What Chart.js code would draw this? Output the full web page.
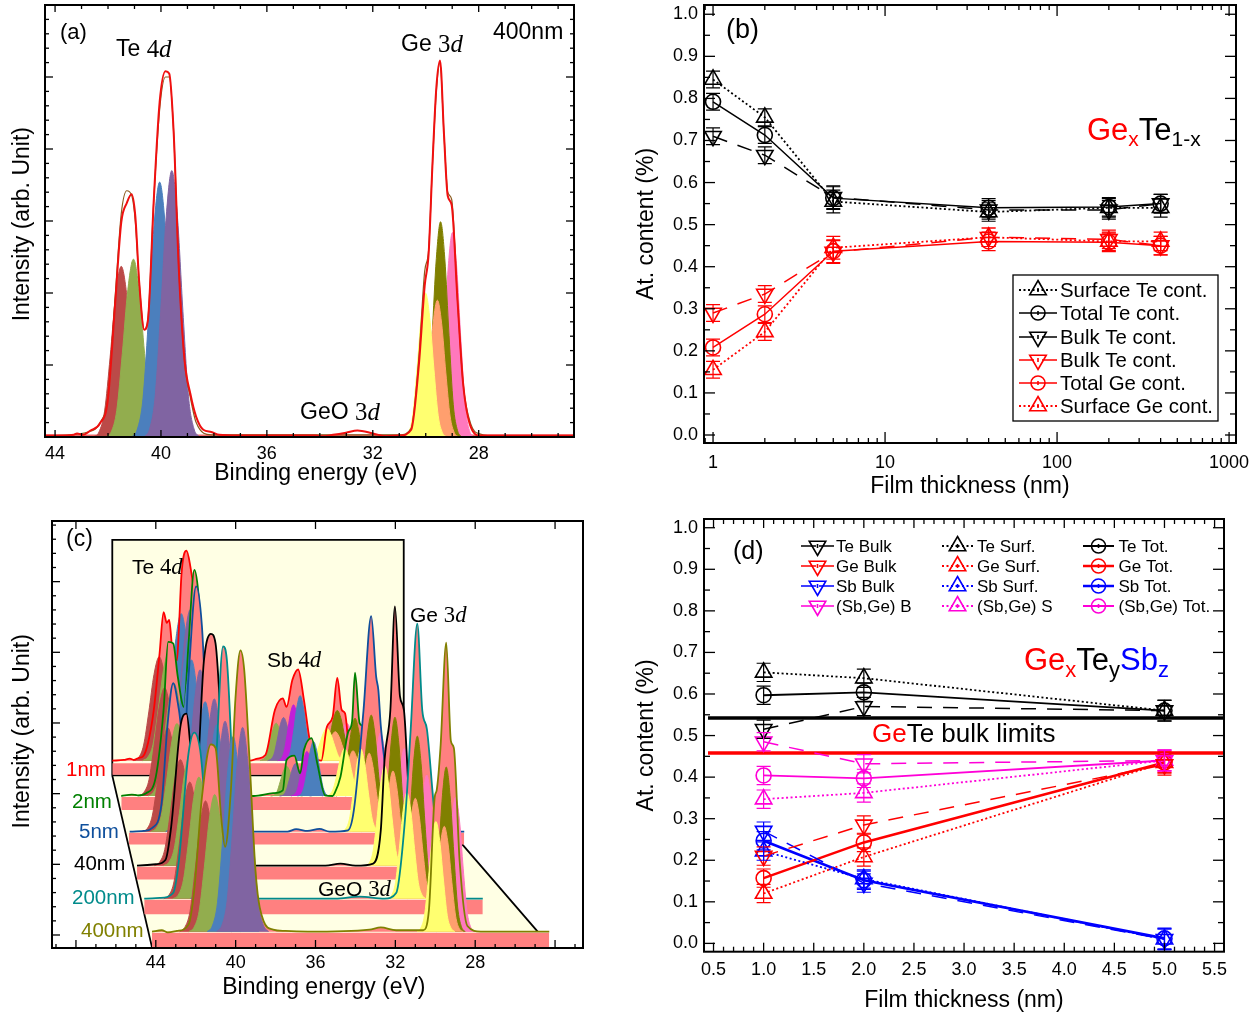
<!DOCTYPE html>
<html><head><meta charset="utf-8">
<style>html,body{margin:0;padding:0;background:#fff}canvas{position:absolute;display:block}</style>
<script src="https://cdn.jsdelivr.net/npm/chart.js@4"></script>
</head><body>
<canvas id="pa" style="left:0;top:0" width="620" height="500"></canvas>
<canvas id="pb" style="left:620px;top:0" width="640" height="505"></canvas>
<canvas id="pc" style="left:0;top:505px" width="620" height="509"></canvas>
<canvas id="pd" style="left:620px;top:505px" width="640" height="509"></canvas>
<script>
/* ---------- panel (b) values ---------- */
const bThickness=[1,2,5,40,200,400];
const bSurfTe=[.845,.755,.555,.53,.54,.54];
const bTotTe=[.792,.713,.563,.54,.542,.55];
const bBulkTe=[.71,.665,.565,.535,.535,.55];
const bBulkGe=[.29,.335,.435,.47,.465,.45];
const bTotGe=[.208,.287,.437,.46,.458,.45];
const bSurfGe=[.155,.245,.445,.47,.46,.46];
const bErr=[.02,.02,.027,.022,.022,.022];
/* ---------- panel (d) values ---------- */
const dThickness=[1,2,5];
const dTeBulk=[.515,.57,.56], dGeBulk=[.21,.285,.43], dSbBulk=[.27,.145,.01], dSbGeBulk=[.485,.432,.44];
const dTeSurf=[.652,.638,.56], dGeSurf=[.12,.208,.435], dSbSurf=[.222,.155,.01], dSbGeSurf=[.347,.362,.44];
const dTeTot=[.597,.604,.56], dGeTot=[.157,.243,.435], dSbTot=[.247,.152,.012], dSbGeTot=[.404,.397,.44];
const dErr=[.022,.022,.025];
const dLimitTe=.542, dLimitGe=.458;
/* ---------- panel (a) values: energy (eV), intensity ---------- */
const aEnvelope=[[44.36,.02],[43.6,.02],[43.3,.03],[43.17,.05],[42.95,.03],[42.66,.09],[42.3,.19],[42.01,.51],[41.72,1.91],[41.5,2.98],[41.29,3.25],[41.11,3.37],[40.97,3.07],[40.82,2.14],[40.63,1.49],[40.49,1.63],[40.27,3.3],[40.05,4.65],[39.83,5.08],[39.69,5.05],[39.52,4.23],[39.33,2.37],[39.11,1.07],[38.89,.6],[38.67,.28],[38.4,.1],[38.1,.07],[37.8,.03],[37.08,.02],[34.17,.02],[33.9,.01],[33.5,.03],[33.01,.06],[32.58,.09],[32.0,.05],[31.5,.01],[30.98,.02],[30.55,.1],[30.26,1.0],[30.04,2.1],[29.89,2.55],[29.75,3.75],[29.6,4.85],[29.46,5.23],[29.31,4.2],[29.17,3.35],[29.02,3.22],[28.8,1.9],[28.59,.75],[28.3,.14],[27.93,.02],[24.4,.02]];
const aFit=[[44.36,.01],[42.66,.08],[42.3,.2],[42.01,.55],[41.72,2.0],[41.5,3.1],[41.29,3.42],[41.11,3.36],[40.97,3.0],[40.82,2.14],[40.63,1.49],[40.49,1.65],[40.27,3.3],[40.05,4.55],[39.83,5.0],[39.69,5.0],[39.52,4.23],[39.33,2.37],[39.11,1.05],[38.89,.55],[38.67,.2],[38.1,.03],[30.98,.03],[30.55,.12],[30.26,1.1],[30.04,2.3],[29.89,2.6],[29.75,3.75],[29.6,4.8],[29.46,5.2],[29.31,4.2],[29.17,3.4],[29.02,3.3],[28.8,1.9],[28.59,.75],[28.3,.18],[27.93,.04],[27.3,.01],[24.4,.01]];
const aBaseline=[[44.38,.015],[24.4,.015]];
const aTePeakStart=[42.55,42.09,41.1,40.64];
const aTePeaks=[[0,.07,.36,1.11,1.97,2.37,1.97,1.11,.36,.07,0],[0,.07,.37,1.16,2.05,2.47,2.05,1.16,.37,.07,0],[0,.11,.53,1.66,2.94,3.54,2.94,1.66,.53,.11,0],[0,.11,.56,1.74,3.07,3.7,3.07,1.74,.56,.11,0]];
const aGePeakStart=[29.79,30.24,30.81,30.36];
const aGePeaks=[[0,.09,.43,1.33,2.36,2.84,2.36,1.33,.43,.09,0],[0,.09,.45,1.41,2.48,2.99,2.48,1.41,.45,.09,0],[0,.06,.3,.94,1.66,2,1.66,.94,.3,.06,0],[0,.06,.29,.89,1.58,1.9,1.58,.89,.29,.06,0]];
/* ---------- panel (c) values: one set per film ---------- */
const cFilms=['1nm','2nm','5nm','40nm','200nm','400nm'];
const cOffsets=[2.467,1.967,1.462,.981,.514,.047];
const cEnv1=[[46.18,0],[45.6,.01],[45.3,.03],[45.1,.01],[44.85,.04],[44.64,.06],[44.39,.25],[44.1,.72],[43.81,1.52],[43.61,2.1],[43.45,1.95],[43.33,1.99],[43.17,1.57],[42.94,1.42],[42.84,1.89],[42.71,2.65],[42.46,2.97],[42.27,2.75],[41.98,2.13],[41.59,.72],[41.21,.05],[40.6,0],[39.28,0],[38.9,.03],[38.51,.08],[38.03,.72],[37.64,.88],[37.45,.76],[37.16,1.14],[36.87,1.29],[36.58,.86],[36.29,.29],[36,.03],[35.71,0],[35.43,.48],[35.14,.62],[34.91,1.17],[34.69,.72],[34.52,.67],[34.27,.06],[33.98,0],[32.5,0]];
const cEnv2=[[45.73,0],[45.2,.02],[44.9,.01],[44.48,.04],[44,.27],[43.61,1.22],[43.38,2.18],[43.13,2.16],[42.9,1.69],[42.59,1.26],[42.36,2.16],[42.07,3.2],[41.88,2.91],[41.59,1.69],[41.11,.04],[40.6,0],[39.09,0],[38.12,.04],[37.64,.08],[37.45,.51],[37.06,.57],[36.77,.32],[36.58,.65],[36.2,.82],[35.91,.46],[35.52,.01],[35.14,0],[35.04,.04],[34.75,.27],[34.37,.9],[34.17,1.05],[34.02,1.745],[33.79,1.03],[33.6,.98],[33.21,.27],[32.82,.01],[31,0]];
const cEnv3=[[45.31,0],[44.6,.01],[44.19,.05],[43.71,.4],[43.42,1.49],[43.13,2.1],[42.84,1.72],[42.59,1.2],[42.36,2.2],[41.98,3.47],[41.69,2.91],[41.4,1.25],[40.92,.02],[40,0],[37.4,0],[36.97,.035],[36.4,.01],[35.8,.04],[35.3,0],[34.37,.02],[34.08,.3],[33.6,1.7],[33.21,3.05],[32.96,2.19],[32.85,2.0],[32.73,1.5],[32.44,.78],[32.05,.07],[31.57,0],[28.55,0]];
const cEnv4=[[44.94,0],[44,.02],[43.52,.08],[43.23,.55],[42.75,2],[42.46,2.15],[42.23,1.6],[41.98,1.2],[41.59,2.9],[41.24,3.28],[41.01,3.15],[40.72,1.9],[40.44,.1],[40.2,0],[35.5,0],[34.75,.03],[34,0],[33.11,.03],[32.73,.5],[32.54,1.5],[32.25,2.2],[32.02,3.67],[31.77,2.4],[31.57,2.2],[31.28,.8],[30.8,.03],[30.4,0],[29.5,0]];
const cEnv5=[[44.58,0],[43.8,.01],[43.13,.08],[42.84,.55],[42.36,2.06],[42.07,2.35],[41.78,2.11],[41.3,.8],[41.01,1.8],[40.63,3.57],[40.44,3.38],[40.05,1.25],[39.47,.03],[38.9,0],[35,0],[33.8,.03],[32.54,0],[31.96,.08],[31.48,1.25],[31.23,2.4],[30.9,3.89],[30.65,2.66],[30.42,2.4],[30.13,1.49],[29.64,.03],[29.2,0],[27.62,0]];
const cEnv6=[[44.19,0],[43.7,.02],[43.4,-.01],[42.94,.01],[42.36,.1],[42.07,.6],[41.69,1.9],[41.24,2.65],[41.01,2.6],[40.72,1.6],[40.53,1.2],[40.24,2],[40.01,3.3],[39.76,3.98],[39.57,3.7],[39.28,2.3],[38.99,.8],[38.6,.15],[38.12,.03],[37.5,.01],[36.39,0],[33.3,.03],[32.73,.06],[31.96,.02],[30.61,.02],[30.32,.3],[30.03,1.9],[29.93,2],[29.74,2.6],[29.45,4.09],[29.22,2.7],[29.07,2.6],[28.78,1],[28.39,.08],[27.72,0],[24.29,0]];
const cBandEnds=[[46.18,32.5],[45.73,31],[45.35,28.55],[44.94,31.67],[44.58,27.62],[44.19,24.29]];
const cBandDepth=[.2,.2,.18,.195,.22,.23];
const cTeStart=[[45.13,44.66,44.03,43.57],[44.86,44.39,43.64,43.18],[44.7,44.24,43.51,43.08],[44.07,43.6,42.83,42.37],[43.6,43.14,42.26,41.83],[42.81,42.35,41.43,40.95]];
const cTe1=[[0,.04,.22,.69,1.22,1.47,1.22,.69,.22,.04,0],[0,.05,.23,.72,1.27,1.53,1.27,.72,.23,.05,0],[0,.06,.31,.98,1.73,2.08,1.73,.98,.31,.06,0],[0,.06,.32,1.01,1.78,2.14,1.78,1.01,.32,.06,0]];
const cTe2=[[0,.05,.23,.72,1.27,1.53,1.27,.72,.23,.05,0],[0,.05,.24,.75,1.32,1.59,1.32,.75,.24,.05,0],[0,.07,.34,1.05,1.86,2.24,1.86,1.05,.34,.07,0],[0,.07,.35,1.08,1.91,2.3,1.91,1.08,.35,.07,0]];
const cTe3=[[0,.04,.22,.69,1.22,1.47,1.22,.69,.22,.04,0],[0,.05,.23,.72,1.27,1.53,1.27,.72,.23,.05,0],[0,.07,.36,1.14,2.02,2.43,2.02,1.14,.36,.07,0],[0,.07,.34,1.08,1.9,2.29,1.9,1.08,.34,.07,0]];
const cTe4=[[0,.05,.23,.71,1.25,1.5,1.25,.71,.23,.05,0],[0,.05,.24,.74,1.3,1.57,1.3,.74,.24,.05,0],[0,.07,.35,1.09,1.93,2.32,1.93,1.09,.35,.07,0],[0,.07,.35,1.11,1.96,2.36,1.96,1.11,.35,.07,0]];
const cTe5=[[0,.05,.25,.78,1.37,1.65,1.37,.78,.25,.05,0],[0,.05,.26,.81,1.43,1.72,1.43,.81,.26,.05,0],[0,.07,.37,1.16,2.04,2.46,2.04,1.16,.37,.07,0],[0,.08,.38,1.18,2.08,2.51,2.08,1.18,.38,.08,0]];
const cTe6=[[0,.06,.28,.87,1.54,1.85,1.54,.87,.28,.06,0],[0,.06,.29,.91,1.61,1.94,1.61,.91,.29,.06,0],[0,.08,.41,1.3,2.29,2.76,2.29,1.3,.41,.08,0],[0,.09,.43,1.36,2.4,2.89,2.4,1.36,.43,.09,0]];
const cSbStart=[[38.77,38.4,37.9,37.57],[38.25,37.8,37.23,36.9]];
const cSb1=[[0,.02,.08,.25,.44,.53,.44,.25,.08,.02,0],[0,.02,.09,.29,.51,.61,.51,.29,.09,.02,0],[0,.02,.12,.37,.66,.79,.66,.37,.12,.02,0],[0,.03,.14,.43,.76,.92,.76,.43,.14,.03,0]];
const cSb2=[[0,.01,.06,.2,.35,.42,.35,.2,.06,.01,0],[0,.01,.07,.22,.38,.46,.38,.22,.07,.01,0],[0,.02,.09,.3,.52,.63,.52,.3,.09,.02,0],[0,.02,.12,.36,.64,.77,.64,.36,.12,.02,0]];
/* Ge rows: pink, olive, yellow, orange */
const cGeStart=[[35.39,35.86,36.38,35.96],[34.5,34.97,35.49,35.07],[33.69,34.16,34.68,34.26],[32.5,32.97,33.49,33.07],[31.38,31.85,32.37,31.95],[29.93,30.4,30.92,30.5]];
const cGe1=[[0,.02,.08,.25,.44,.53,.44,.25,.08,.02,0],[0,.02,.11,.33,.59,.71,.59,.33,.11,.02,0],[0,.01,.07,.22,.38,.46,.38,.22,.07,.01,0],[0,.01,.06,.19,.34,.41,.34,.19,.06,.01,0]];
const cGe2=[[0,.03,.14,.45,.8,.96,.8,.45,.14,.03,0],[0,.03,.17,.52,.91,1.1,.91,.52,.17,.03,0],[0,.02,.1,.31,.56,.67,.56,.31,.1,.02,0],[0,.02,.1,.3,.53,.64,.53,.3,.1,.02,0]];
const cGe3=[[0,.04,.21,.66,1.16,1.4,1.16,.66,.21,.04,0],[0,.05,.25,.78,1.37,1.65,1.37,.78,.25,.05,0],[0,.04,.18,.55,.97,1.17,.97,.55,.18,.04,0],[0,.03,.17,.52,.92,1.11,.92,.52,.17,.03,0]];
const cGe4=[[0,.05,.25,.78,1.38,1.66,1.38,.78,.25,.05,0],[0,.06,.32,.99,1.74,2.1,1.74,.99,.32,.06,0],[0,.04,.21,.66,1.17,1.41,1.17,.66,.21,.04,0],[0,.04,.2,.63,1.11,1.34,1.11,.63,.2,.04,0]];
const cGe5=[[0,.05,.26,.82,1.45,1.75,1.45,.82,.26,.05,0],[0,.07,.35,1.08,1.91,2.3,1.91,1.08,.35,.07,0],[0,.05,.23,.71,1.25,1.5,1.25,.71,.23,.05,0],[0,.04,.21,.67,1.18,1.42,1.18,.67,.21,.04,0]];
const cGe6=[[0,.06,.29,.89,1.58,1.9,1.58,.89,.29,.06,0],[0,.07,.35,1.1,1.93,2.33,1.93,1.1,.35,.07,0],[0,.05,.23,.73,1.29,1.56,1.29,.73,.23,.05,0],[0,.04,.22,.7,1.24,1.49,1.24,.7,.22,.04,0]];

/* ---------- styles ---------- */
const SANS='"Liberation Sans", Arial, sans-serif', SERIF='"Liberation Serif", serif';
const teColors=['#bb4a48','#92ad4e','#4b7fbd','#8064a2'];
const sbColors=['#92ad4e','#8064a2','#c020d8','#4b7fbd'];
const geColors=['#ff78bd','#808000','#ffff70','#ff9f6e'];
const geDrawOrder=[0,1,3,2];
const filmColors=['#ff0000','#008000','#0f4f9c','#000000','#008b8b','#808000'];
const SALMON='#ff8080', WALL='#ffffe4';
const DOT=[2,2.5], DASH=[15,11];
const A_TE_STEP=.21, C_TE_STEP=.26, A_GE_STEP=.16, C_GE_STEP=.19, SB_STEP=.16;

const serifD=(n)=>[[n+'',{font:SERIF,scale:1.08}],['d',{font:SERIF,italic:true,scale:1.08}]];
function pts(pairs,off){return pairs.map(p=>({x:p[0],y:p[1]+(off||0)}));}
function peakSet(start,step,vals,colors,off,order){
  const all=vals.map((v,i)=>({data:v.map((h,k)=>({x:start[i]-k*step,y:h+off})),borderColor:colors[i],borderWidth:1,
    backgroundColor:colors[i],fill:{value:off},cubicInterpolationMode:'monotone'}));
  return order?order.map(i=>all[i]):all;
}
function layered(list){const n=list.length;return list.map((d,i)=>Object.assign({showLine:true,pointRadius:0,order:n-i},d));}

/* ---------- generic plugin: frame, inward ticks, error bars, legend, text ---------- */
function tickValues(sc,t){
  const out=[];
  if(t.log){
    for(let d=-1;d<=3;d++)for(let m=1;m<=9;m++){const v=m*Math.pow(10,d);if(v>=sc.min&&v<=sc.max)out.push([v,m===1]);}
    return out;
  }
  const a=t.anchor||0;
  for(let k=Math.ceil((sc.min-a)/t.step-1e-9);a+k*t.step<=sc.max+1e-9;k++)out.push([a+k*t.step,k%t.every===0]);
  return out;
}
function marker(ctx,kind,x,y,r){
  ctx.beginPath();
  if(kind==='circle'){ctx.arc(x,y,r,0,Math.PI*2);}
  else{const s=kind==='up'?1:-1,w=r*0.87;
    ctx.moveTo(x,y-s*r);ctx.lineTo(x+w,y+s*r/2);ctx.lineTo(x-w,y+s*r/2);ctx.closePath();}
  ctx.stroke();
}
function richText(ctx,a,ox,oy){
  let x=a.x-ox;const y=a.y-oy+1;
  ctx.textBaseline='middle';ctx.textAlign='left';
  a.runs.forEach(r=>{
    const o=r[1]||{};const size=(o.sub?(a.sub||a.size*.7):a.size)*(o.scale||1);
    ctx.font=(o.italic?'italic ':'')+size+'px '+(o.font||SANS);
    ctx.fillStyle=o.color||a.color||'#000';
    ctx.fillText(r[0],x,y+(o.sub?(a.subDy||a.size*.28):0));
    x+=ctx.measureText(r[0]).width;
  });
}
function makePlugin(box,cfg){
  return {id:'panelDecor',
    beforeDatasetsDraw(chart){
      const c=chart.ctx,X=chart.scales.x,Y=chart.scales.y;
      c.save();
      if(cfg.backdrop){
        c.beginPath();
        cfg.backdrop.forEach((p,i)=>{const px=X.getPixelForValue(p[0]),py=Y.getPixelForValue(p[1]);i?c.lineTo(px,py):c.moveTo(px,py);});
        c.closePath();c.fillStyle=WALL;c.fill();
      }
      if(cfg.wallLines){c.strokeStyle='#000';c.lineWidth=1.8;
        cfg.wallLines.forEach(l=>{c.beginPath();l.forEach((p,i)=>{const px=X.getPixelForValue(p[0]),py=Y.getPixelForValue(p[1]);i?c.lineTo(px,py):c.moveTo(px,py);});c.stroke();});}
      c.restore();
    },
    afterDatasetsDraw(chart){
      const c=chart.ctx,X=chart.scales.x,Y=chart.scales.y;c.save();
      chart.data.datasets.forEach(d=>{
        if(!d.errs)return;
        c.strokeStyle=d.borderColor;c.lineWidth=1.2;c.setLineDash([]);
        d.data.forEach((p,i)=>{
          const px=X.getPixelForValue(p.x),hi=Y.getPixelForValue(p.y+d.errs[i]),lo=Y.getPixelForValue(p.y-d.errs[i]);
          c.beginPath();c.moveTo(px,hi);c.lineTo(px,lo);c.moveTo(px-7,hi);c.lineTo(px+7,hi);c.moveTo(px-7,lo);c.lineTo(px+7,lo);c.stroke();
        });
      });
      c.restore();
    },
    afterDraw(chart){
      const c=chart.ctx,a=chart.chartArea,X=chart.scales.x,Y=chart.scales.y;c.save();
      c.strokeStyle='#000';c.lineWidth=1.3;c.setLineDash([]);
      const tx=cfg.ticks.x,ty=cfg.ticks.y;
      tickValues(X,tx).forEach(([v,maj])=>{const p=X.getPixelForValue(v);
        (tx.sides).forEach(s=>{const L=maj?tx.major:(s==='top'&&tx.noTopMinor?0:tx.minor);if(!L)return;c.beginPath();
          if(s==='bottom'){c.moveTo(p,a.bottom);c.lineTo(p,a.bottom-L);}else{c.moveTo(p,a.top);c.lineTo(p,a.top+L);}c.stroke();});});
      tickValues(Y,ty).forEach(([v,maj])=>{const p=Y.getPixelForValue(v);
        (ty.sides).forEach(s=>{const L=maj?ty.major:ty.minor;c.beginPath();
          if(s==='left'){c.moveTo(a.left,p);c.lineTo(a.left+L,p);}else{c.moveTo(a.right,p);c.lineTo(a.right-L,p);}c.stroke();});});
      c.lineWidth=2;c.strokeRect(a.left,a.top,a.right-a.left,a.bottom-a.top);
      if(cfg.legend){const g=cfg.legend;
        if(g.box){c.lineWidth=1.3;c.fillStyle='#fff';const b=g.box;c.fillRect(b[0]-box.l,b[1]-box.t,b[2]-b[0],b[3]-b[1]);c.strokeRect(b[0]-box.l,b[1]-box.t,b[2]-b[0],b[3]-b[1]);}
        g.items.forEach(it=>{const d=chart.data.datasets[it.ds];const y=it.y-box.t;
          c.strokeStyle=d.borderColor;c.lineWidth=d.borderWidth;c.setLineDash(d.borderDash||[]);
          c.beginPath();c.moveTo(it.x0-box.l,y);c.lineTo(it.m-box.l,y);c.moveTo(it.x1-box.l,y);c.lineTo(it.m-box.l,y);c.stroke();
          c.setLineDash([]);c.lineWidth=1.6;
          const kind=d.pointStyle==='circle'?'circle':(d.pointRotation?'down':'up');
          marker(c,kind,it.m-box.l,y,kind==='circle'?7:9.5);
          c.beginPath();c.moveTo(it.m-box.l,y-2);c.lineTo(it.m-box.l,y+2);c.stroke();
          c.font=g.size+'px '+SANS;c.fillStyle='#000';c.textAlign='left';c.textBaseline='middle';
          c.fillText(d.label,it.t-box.l,y+1);
        });
      }
      (cfg.texts||[]).forEach(t=>richText(c,t,box.l,box.t));
      c.restore();
    }};
}
function zeroPad(s){s.paddingTop=0;s.paddingBottom=0;s.paddingLeft=0;s.paddingRight=0;}
function build(id,box,frame,datasets,cfg){
  const ticksFont={family:SANS,size:cfg.tickSize||18};
  new Chart(document.getElementById(id),{
    type:'scatter',
    data:{datasets},
    plugins:[makePlugin(box,cfg)],
    options:{responsive:false,animation:false,events:[],devicePixelRatio:1,
      layout:{autoPadding:false,padding:{left:0,bottom:0,top:frame.t-box.t,right:box.l+box.w-frame.r}},
      plugins:{legend:{display:false},tooltip:{enabled:false}},
      scales:{
        x:Object.assign({position:'bottom',border:{display:false},grid:{display:false,drawTicks:false},
          afterFit(s){s.height=box.t+box.h-frame.b;zeroPad(s);},
          title:{display:true,text:cfg.xTitle,color:'#000',font:{family:SANS,size:23},padding:{top:0,bottom:cfg.xTitlePad}},
          ticks:Object.assign({color:'#000',font:ticksFont,padding:cfg.xTickPad,autoSkip:false,maxRotation:0,includeBounds:false},cfg.xTicks)},cfg.x),
        y:Object.assign({position:'left',border:{display:false},grid:{display:false,drawTicks:false},
          afterFit(s){s.width=frame.l-box.l;zeroPad(s);},
          title:{display:true,text:cfg.yTitle,color:'#000',font:{family:SANS,size:23},padding:{top:cfg.yTitlePad,bottom:0}},
          ticks:Object.assign({color:'#000',font:ticksFont,padding:6,autoSkip:false,includeBounds:false},cfg.yTicks)},cfg.y)
      }}});
}
const bindingLabel=v=>(v>=28&&v<=44)?String(v):null;

/* ---------- panel (a) ---------- */
{
  const list=[];
  list.push({data:pts(aBaseline),borderColor:'#f06a6a',borderWidth:3,fill:false});
  list.push(...peakSet(aTePeakStart,A_TE_STEP,aTePeaks,teColors,0));
  list.push(...peakSet(aGePeakStart,A_GE_STEP,aGePeaks,geColors,0,geDrawOrder));
  list.push({data:pts(aFit),borderColor:'#8a5a1e',borderWidth:1.2,cubicInterpolationMode:'monotone',fill:false});
  list.push({data:pts(aEnvelope),borderColor:'#f01010',borderWidth:2,cubicInterpolationMode:'monotone',fill:false});
  build('pa',{l:0,t:0,w:620,h:500},{l:45,r:574,t:5,b:437},layered(list),{
    xTitle:'  Binding energy (eV)',yTitle:'Intensity (arb. Unit) ',xTitlePad:12.2,yTitlePad:9.2,xTickPad:6,
    x:{type:'linear',reverse:true,min:24.4,max:44.38},
    y:{type:'linear',min:0,max:6},
    xTicks:{stepSize:4,callback:bindingLabel},yTicks:{display:false,stepSize:1},
    ticks:{x:{step:1,every:4,anchor:28,major:7,minor:4,sides:['bottom','top']},y:{step:.2,every:5,major:8,minor:4,sides:['left','right']}},
    texts:[
      {x:60,y:32,size:22,runs:[['(a)']]},
      {x:116,y:49,size:23,runs:[['Te '],...serifD(4)]},
      {x:401,y:44,size:23,runs:[['Ge '],...serifD(3)]},
      {x:493,y:32,size:23,runs:[['400nm']]},
      {x:300,y:412,size:23,runs:[['GeO '],...serifD(3)]}
    ]});
}

/* ---------- panel (b) ---------- */
{
  const S=(label,vals,color,style,rot,dash,w)=>({label,data:vals.map((v,i)=>({x:bThickness[i],y:v})),errs:bErr,showLine:true,
    borderColor:color,borderWidth:w||(dash===DOT?1.8:1.5),borderDash:dash||[],pointStyle:style,pointRotation:rot,pointRadius:style==='circle'?7.5:9.5,
    pointBorderColor:color,pointBackgroundColor:'rgba(0,0,0,0)',pointBorderWidth:1.6,fill:false,tension:0});
  const ds=[
    S('Surface Te cont.',bSurfTe,'#000','triangle',0,DOT),
    S('Total Te cont.',bTotTe,'#000','circle',0),
    S('Bulk Te cont.',bBulkTe,'#000','triangle',180,DASH),
    S('Bulk Te cont.',bBulkGe,'#f00','triangle',180,DASH),
    S('Total Ge cont.',bTotGe,'#f00','circle',0),
    S('Surface Ge cont.',bSurfGe,'#f00','triangle',0,DOT)
  ];
  const rows=[290,313,337,360,383,406];
  build('pb',{l:620,t:0,w:640,h:505},{l:704,r:1236,t:5,b:443},ds,{
    xTitle:'Film thickness (nm)',yTitle:'At. content (%)',xTitlePad:4.2,yTitlePad:13.2,xTickPad:9,
    x:{type:'logarithmic',min:.886,max:1097},
    y:{type:'linear',min:-.019,max:1.022},
    xTicks:{callback:v=>{const l=Math.log10(v);return Math.abs(l-Math.round(l))<1e-6?String(Math.round(v)):null;}},
    yTicks:{stepSize:.1,callback:v=>v.toFixed(1)},
    ticks:{x:{log:true,major:11,minor:5,sides:['bottom','top']},y:{step:.05,every:2,major:11,minor:6,sides:['left','right']}},
    legend:{box:[1013,275,1218,421],size:20.4,items:rows.map((y,i)=>({ds:i,y,x0:1019,x1:1057,m:1038,t:1060}))},
    texts:[
      {x:726,y:30,size:27,runs:[['(b)']]},
      {x:1087,y:130,size:31,sub:21,subDy:9,runs:[['Ge',{color:'#f00'}],['x',{color:'#f00',sub:true}],['Te'],['1-x',{sub:true}]]}
    ]});
}

/* ---------- panel (c) ---------- */
{
  const te=[cTe1,cTe2,cTe3,cTe4,cTe5,cTe6], ge=[cGe1,cGe2,cGe3,cGe4,cGe5,cGe6], sb=[cSb1,cSb2];
  const envs=[cEnv1,cEnv2,cEnv3,cEnv4,cEnv5,cEnv6];
  const list=[];
  cFilms.forEach((name,i)=>{
    const off=cOffsets[i];
    const top=off-(i===0?.038:.015);
    list.push({label:name+' band',data:[{x:cBandEnds[i][0],y:top},{x:cBandEnds[i][1],y:top}],borderWidth:0,borderColor:SALMON,backgroundColor:SALMON,fill:{value:off-cBandDepth[i]}});
    list.push({label:name+' envelope',data:pts(envs[i],off),borderWidth:0,borderColor:SALMON,backgroundColor:SALMON,fill:{value:off},cubicInterpolationMode:'monotone'});
    list.push(...peakSet(cTeStart[i],C_TE_STEP,te[i],teColors,off));
    if(sb[i])list.push(...peakSet(cSbStart[i],SB_STEP,sb[i],sbColors,off));
    list.push(...peakSet(cGeStart[i],C_GE_STEP,ge[i],geColors,off,geDrawOrder));
    list.push({label:name,data:pts(envs[i],off),borderWidth:1.8,borderColor:filmColors[i],fill:false,cubicInterpolationMode:'monotone'});
  });
  const labels=[[66,769],[72,801],[79,831],[74,863],[72,897],[81,930]];
  build('pc',{l:0,t:505,w:620,h:509},{l:52,r:583,t:521,b:948},layered(list),{
    xTitle:'  Binding energy (eV)',yTitle:' Intensity (arb. Unit)',xTitlePad:12.2,yTitlePad:9.2,xTickPad:4,
    x:{type:'linear',reverse:true,min:22.6,max:49.2},
    y:{type:'linear',min:-.184,max:5.858},
    xTicks:{stepSize:4,callback:bindingLabel},yTicks:{display:false,stepSize:1},
    ticks:{x:{step:1,every:4,anchor:28,major:8,minor:4,noTopMinor:true,sides:['bottom','top']},y:{step:.2,every:5,major:8,minor:4,sides:['left']}},
    backdrop:[[46.18,5.59],[31.58,5.59],[31.58,2.24],[24.87,.047],[44.19,-.175],[46.18,2.255]],
    wallLines:[[[46.18,2.255],[46.18,5.59],[31.58,5.59],[31.58,2.24],[24.87,.047]],[[46.18,2.255],[44.19,-.175]],[[46.18,2.26],[33.9,2.26]]],
    texts:[
      {x:66,y:539,size:23,runs:[['(c)']]},
      {x:132,y:567,size:21,runs:[['Te '],...serifD(4)]},
      {x:267,y:660,size:21,runs:[['Sb '],...serifD(4)]},
      {x:410,y:615,size:21,runs:[['Ge '],...serifD(3)]},
      {x:318,y:889,size:21,runs:[['GeO '],...serifD(3)]},
      ...cFilms.map((n,i)=>({x:labels[i][0],y:labels[i][1],size:20.5,color:filmColors[i],runs:[[n]]}))
    ]});
}

/* ---------- panel (d) ---------- */
{
  const S=(label,vals,color,style,rot,dash,w)=>({label,data:vals.map((v,i)=>({x:dThickness[i],y:v})),errs:dErr,showLine:true,
    borderColor:color,borderWidth:w||(dash===DOT?1.8:1.5),borderDash:dash||[],pointStyle:style,pointRotation:rot,pointRadius:style==='circle'?7.5:9.5,
    pointBorderColor:color,pointBackgroundColor:'rgba(0,0,0,0)',pointBorderWidth:1.6,fill:false,tension:0});
  const B='#0000ff',M='#ff00d8',K='#000',R='#f00';
  const ds=[
    S('Te Bulk',dTeBulk,K,'triangle',180,DASH),S('Ge Bulk',dGeBulk,R,'triangle',180,DASH),S('Sb Bulk',dSbBulk,B,'triangle',180,DASH),S('(Sb,Ge) B',dSbGeBulk,M,'triangle',180,DASH),
    S('Te Surf.',dTeSurf,K,'triangle',0,DOT),S('Ge Surf.',dGeSurf,R,'triangle',0,DOT),S('Sb Surf.',dSbSurf,B,'triangle',0,DOT),S('(Sb,Ge) S',dSbGeSurf,M,'triangle',0,DOT),
    S('Te Tot.',dTeTot,K,'circle',0,null,1.8),S('Ge Tot.',dGeTot,R,'circle',0,null,2.6),S('Sb Tot.',dSbTot,B,'circle',0,null,2.6),S('(Sb,Ge) Tot.',dSbGeTot,M,'circle',0,null,1.8),
    {label:'Te limit',data:[{x:.445,y:dLimitTe},{x:5.6,y:dLimitTe}],showLine:true,borderColor:K,borderWidth:3.5,pointRadius:0,fill:false},
    {label:'Ge limit',data:[{x:.445,y:dLimitGe},{x:5.6,y:dLimitGe}],showLine:true,borderColor:R,borderWidth:3.5,pointRadius:0,fill:false}
  ];
  const rows=[546,566,586,606], cols=[[801,834,817.5,836],[942,973,957.5,977],[1083,1114,1098.5,1118.5]];
  const items=[];
  cols.forEach((c,ci)=>rows.forEach((y,ri)=>items.push({ds:ci*4+ri,y,x0:c[0],x1:c[1],m:c[2],t:c[3]})));
  build('pd',{l:620,t:505,w:640,h:509},{l:704,r:1224,t:519,b:951.7},ds,{
    xTitle:'Film thickness (nm)',yTitle:'At. content (%)',xTitlePad:0,yTitlePad:13.2,xTickPad:8,
    x:{type:'linear',min:.405,max:5.594},
    y:{type:'linear',min:-.02,max:1.021},
    xTicks:{stepSize:.5,callback:v=>v.toFixed(1)},
    yTicks:{stepSize:.1,callback:v=>v.toFixed(1)},
    ticks:{x:{step:.1,every:5,major:9,minor:5,sides:['bottom','top']},y:{step:.05,every:2,major:11,minor:6,sides:['left','right']}},
    legend:{size:17,items},
    texts:[
      {x:733,y:551,size:25,runs:[['(d)']]},
      {x:1024,y:660,size:31,sub:22,subDy:10,runs:[['Ge',{color:R}],['x',{color:R,sub:true}],['Te'],['y',{sub:true}],['Sb',{color:B}],['z',{color:B,sub:true}]]},
      {x:872,y:734,size:26,runs:[['Ge',{color:R}],['Te bulk limits']]}
    ]});
}
</script>
</body></html>
